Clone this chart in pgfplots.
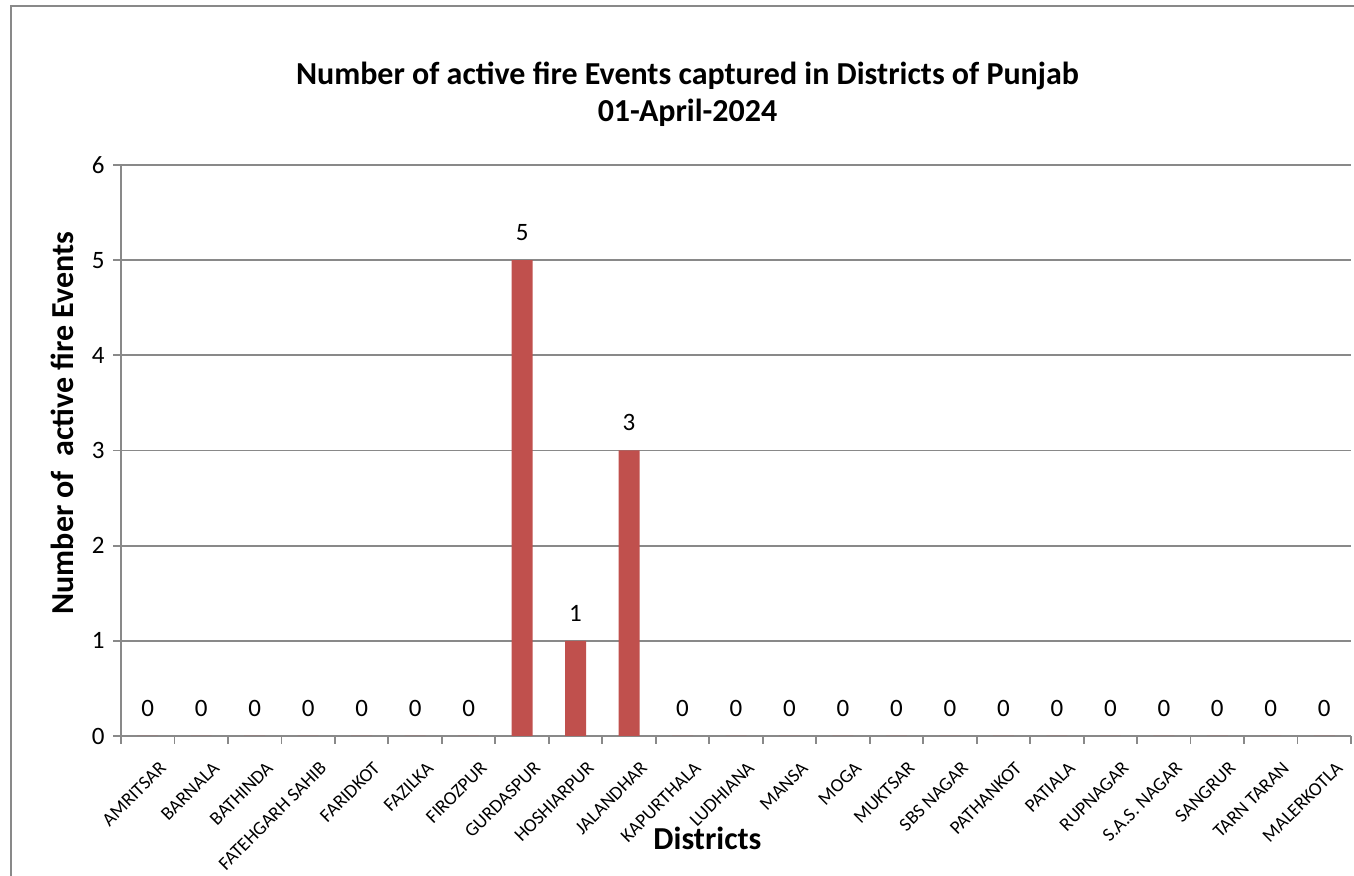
\documentclass[border=0pt]{standalone}
\usepackage{pgfplots}
\pgfplotsset{compat=1.18}
\usepackage{fontspec}
\setmainfont{Carlito}
\definecolor{barred}{HTML}{C0504D}
\definecolor{linegray}{HTML}{898989}
\begin{document}
\begin{tikzpicture}
\path[use as bounding box] (0,0) rectangle (677pt,438pt);
\draw[linegray, line width=1pt] (5.5pt,0) -- (5.5pt,435pt) -- (677pt,435pt);
\begin{axis}[
  at={(60.5pt,70pt)}, anchor=south west,
  scale only axis, width=615pt, height=285.5pt,
  xmin=-0.5, xmax=22.5, ymin=0, ymax=6,
  clip=false,
  axis x line*=bottom, axis y line*=left,
  axis line style={linegray, line width=0.9pt, -},
  ymajorgrids, grid style={linegray, line width=0.9pt},
  ytick={0,1,2,3,4,5,6},
  xtick={-0.5,0.5,...,22.5},
  x tick label as interval,
  xticklabels={AMRITSAR,BARNALA,BATHINDA,FATEHGARH SAHIB,FARIDKOT,FAZILKA,FIROZPUR,GURDASPUR,HOSHIARPUR,JALANDHAR,KAPURTHALA,LUDHIANA,MANSA,MOGA,MUKTSAR,SBS NAGAR,PATHANKOT,PATIALA,RUPNAGAR,S.A.S. NAGAR,SANGRUR,TARN TARAN,MALERKOTLA},
  tick align=outside, major tick length=4pt,
  tick style={linegray, line width=0.9pt},
  xticklabel style={rotate=45, anchor=north east, inner sep=0pt, font=\fontsize{9.5}{11}\selectfont, xshift=-2pt, yshift=-9.5pt},
  yticklabel style={anchor=east, inner sep=0pt, font=\fontsize{12.5}{14}\selectfont, xshift=-4pt},
  /pgf/number format/assume math mode=true,
  title={Number of active fire Events captured in Districts of Punjab\\01-April-2024},
  title style={at={(axis description cs:0.4606,1.103)}, anchor=center, yshift=0pt, align=center, font=\bfseries\fontsize{16}{18.5}\selectfont},
  xlabel={Districts},
  xlabel style={at={(axis description cs:0.4768,-0.1786)}, anchor=center, font=\bfseries\fontsize{16}{19}\selectfont},
  ylabel={Number of\ \ active fire Events},
  ylabel style={at={(axis description cs:-0.0479,0.548)}, anchor=center, font=\bfseries\fontsize{16}{19}\selectfont},
  nodes near coords,
  every node near coord/.append style={font=\fontsize{12.5}{14}\selectfont, anchor=south, inner sep=0pt, yshift=9.5pt, text=black},
]
\addplot[ybar, bar width=10.5pt, bar shift=0pt, fill=barred, draw=none] coordinates {
(0,0) (1,0) (2,0) (3,0) (4,0) (5,0) (6,0) (7,5) (8,1) (9,3) (10,0) (11,0) (12,0) (13,0) (14,0) (15,0) (16,0) (17,0) (18,0) (19,0) (20,0) (21,0) (22,0)
};
\end{axis}
\end{tikzpicture}
\end{document}
